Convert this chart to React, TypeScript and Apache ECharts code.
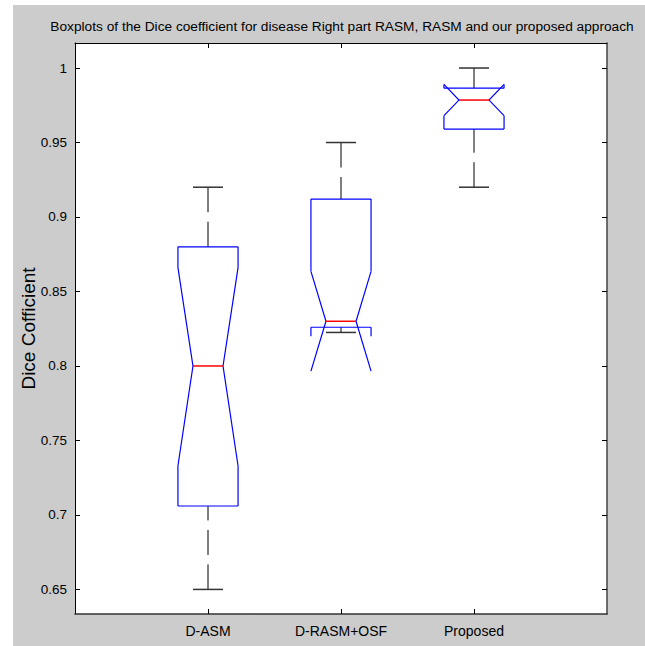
import React, { useEffect, useRef } from "react";
import * as echarts from "echarts";

const categories = ["D-ASM", "D-RASM+OSF", "Proposed"];
const whiskerLow = [0.65, 0.8225, 0.92];
const quartile1 = [0.706, 0.826, 0.959];
const medians = [0.8, 0.83, 0.9785];
const quartile3 = [0.88, 0.912, 0.9865];
const whiskerHigh = [0.92, 0.95, 1.0];
const notchLow = [0.733, 0.7965, 0.968];
const notchHigh = [0.866, 0.8635, 0.989];
const yTicks = [0.65, 0.7, 0.75, 0.8, 0.85, 0.9, 0.95, 1];
const xTicks = [1, 2, 3];

const titleText =
  "Boxplots of the Dice coefficient for disease Right part RASM, RASM and our proposed approach";
const yName = "Dice Cofficient";

const FONT = "'Liberation Sans', Arial, sans-serif";

export default function App() {
  const ref = useRef<HTMLDivElement>(null);
  useEffect(() => {
    if (!ref.current) return;
    const chart = echarts.init(ref.current, undefined, { renderer: "svg" });
    const data = categories.map((_, i) => [
      i + 1,
      whiskerLow[i],
      quartile1[i],
      medians[i],
      quartile3[i],
      whiskerHigh[i],
      notchLow[i],
      notchHigh[i],
    ]);
    const blue = "#0000ff";
    const renderItem = (params: any, api: any) => {
      const x = api.value(0);
      const wl = api.value(1);
      const q1 = api.value(2);
      const md = api.value(3);
      const q3 = api.value(4);
      const wh = api.value(5);
      const nl = api.value(6);
      const nh = api.value(7);
      const P = (v: number) => api.coord([x, v]);
      const cx = P(md)[0];
      const yWL = P(wl)[1];
      const yQ1 = P(q1)[1];
      const yMd = P(md)[1];
      const yQ3 = P(q3)[1];
      const yWH = P(wh)[1];
      const yNL = P(nl)[1];
      const yNH = P(nh)[1];
      const hw = api.size([0.226, 0])[0];
      const nw = hw / 2;
      const cw = hw / 2;
      const children: any[] = [];
      const line = (x1: number, y1: number, x2: number, y2: number, style: any) =>
        children.push({ type: "line", shape: { x1, y1, x2, y2 }, style });
      const boxStyle = { stroke: blue, lineWidth: 1.2, fill: null };
      // whiskers (dashed, drawn from the caps)
      const wStyle = { stroke: "#000", lineWidth: 1, lineDash: [25, 9.5] };
      line(cx, yWH, cx, yQ3, wStyle);
      line(cx, yWL, cx, yQ1, wStyle);
      // caps
      const cStyle = { stroke: "#333", lineWidth: 1.5 };
      line(cx - cw, yWH, cx + cw, yWH, cStyle);
      line(cx - cw, yWL, cx + cw, yWL, cStyle);
      // box top
      line(cx - hw, yQ3, cx + hw, yQ3, boxStyle);
      line(cx - hw, yQ3, cx - hw, yNH, boxStyle);
      line(cx + hw, yQ3, cx + hw, yNH, boxStyle);
      // notch diagonals
      children.push({
        type: "polyline",
        shape: { points: [[cx - hw, yNH], [cx - nw, yMd], [cx - hw, yNL]] },
        style: boxStyle,
      });
      children.push({
        type: "polyline",
        shape: { points: [[cx + hw, yNH], [cx + nw, yMd], [cx + hw, yNL]] },
        style: boxStyle,
      });
      // box bottom
      line(cx - hw, yQ1, cx + hw, yQ1, boxStyle);
      if (nl >= q1) {
        line(cx - hw, yNL, cx - hw, yQ1, boxStyle);
        line(cx + hw, yNL, cx + hw, yQ1, boxStyle);
      } else {
        const stub = Math.min(9, yNL - yQ1);
        line(cx - hw, yQ1, cx - hw, yQ1 + stub, boxStyle);
        line(cx + hw, yQ1, cx + hw, yQ1 + stub, boxStyle);
      }
      // median
      line(cx - nw, yMd, cx + nw, yMd, { stroke: "#ff0000", lineWidth: 1.5 });
      return { type: "group", children };
    };

    const yMin = 0.6335;
    const yMax = 1.0168;
    const tickStyle = { show: true, inside: true, length: 5, lineStyle: { color: "#000", width: 1 } };
    chart.setOption({
      animation: false,
      textStyle: { fontFamily: FONT },
      title: {
        text: titleText,
        left: 337,
        top: 14,
        textAlign: "center",
        textStyle: { fontFamily: FONT, fontSize: 13.7, fontWeight: "normal", color: "#000" },
      },
      graphic: [
        {
          type: "rect",
          z: -100,
          shape: { x: 13, y: 5, width: 632, height: 641 },
          style: { fill: "#cccccc" },
        },
        {
          type: "rect",
          z: -99,
          shape: { x: 75, y: 43, width: 532, height: 571 },
          style: { fill: "#ffffff" },
        },
      ],
      grid: { left: 75, top: 43, width: 532, height: 571, containLabel: false },
      xAxis: [
        {
          type: "value",
          min: 0,
          max: 4,
          position: "bottom",
          splitLine: { show: false },
          axisLine: { show: true, onZero: false, lineStyle: { color: "#333", width: 1.5 } },
          axisTick: { ...tickStyle, customValues: xTicks },
          axisLabel: {
            customValues: xTicks,
            formatter: (v: number) => categories[Math.round(v) - 1] ?? "",
            margin: 10,
            fontSize: 14,
            color: "#000",
            fontFamily: FONT,
          },
        },
        {
          type: "value",
          min: 0,
          max: 4,
          position: "top",
          splitLine: { show: false },
          axisLine: { show: true, onZero: false, lineStyle: { color: "#000", width: 1 } },
          axisTick: { ...tickStyle, customValues: xTicks },
          axisLabel: { show: false },
        },
      ],
      yAxis: [
        {
          type: "value",
          min: yMin,
          max: yMax,
          position: "left",
          name: yName,
          nameLocation: "middle",
          nameRotate: 90,
          nameGap: 37,
          nameMoveOverlap: false,
          nameTextStyle: { fontSize: 19, color: "#000", fontFamily: FONT },
          splitLine: { show: false },
          axisLine: { show: true, onZero: false, lineStyle: { color: "#000", width: 1 } },
          axisTick: { ...tickStyle, customValues: yTicks },
          axisLabel: {
            customValues: yTicks,
            formatter: (v: number) => String(v),
            margin: 8,
            fontSize: 13.5,
            color: "#000",
            fontFamily: FONT,
          },
        },
        {
          type: "value",
          min: yMin,
          max: yMax,
          position: "right",
          splitLine: { show: false },
          axisLine: { show: true, onZero: false, lineStyle: { color: "#444", width: 1.5 } },
          axisTick: { ...tickStyle, customValues: yTicks },
          axisLabel: { show: false },
        },
      ],
      series: [
        {
          type: "custom",
          xAxisIndex: 0,
          yAxisIndex: 0,
          renderItem,
          data,
          clip: false,
        },
      ],
    });
    return () => chart.dispose();
  }, []);
  return (
    <div
      ref={ref}
      style={{ position: "fixed", left: 0, top: 0, width: 645, height: 646, background: "#ffffff" }}
    />
  );
}
